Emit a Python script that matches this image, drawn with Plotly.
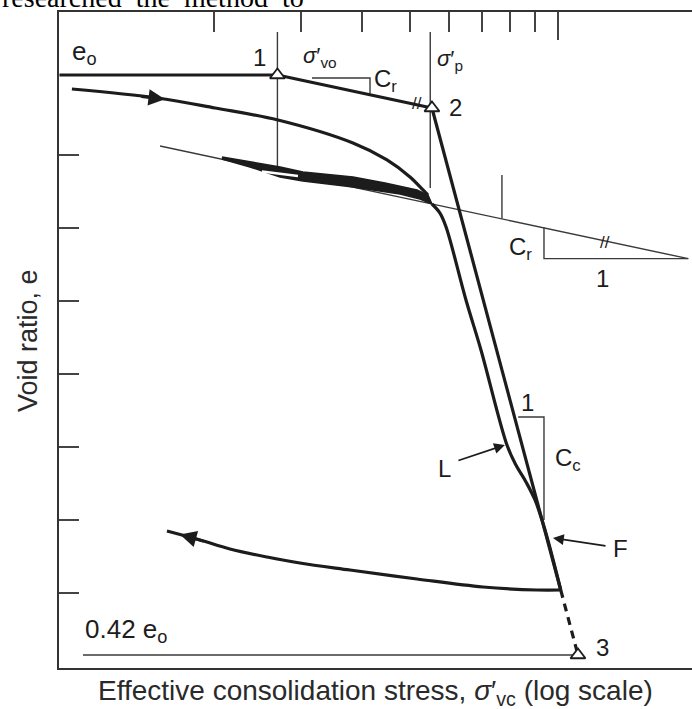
import numpy as np
import plotly.graph_objects as go

# ---------------- data (sigma'_vc in log-scale units, void ratio e) ----------------
e0_sigma = [0.97, 2.69]
e0_e = [1.4096, 1.4096]

recomp_sigma = [2.69, 5.544]          # field recompression line 1 -> 2
recomp_e = [1.4096, 1.3644]

load_sigma = [1.028, 1.531, 2.009, 2.697, 3.831, 4.492, 5.003, 5.317, 5.442]
load_e = [1.3904, 1.3781, 1.3644, 1.3479, 1.3164, 1.2932, 1.2699, 1.2521, 1.2452]

loop_up_sigma = [2.075, 2.366, 2.723, 3.031, 3.831, 4.450, 5.169, 5.442]
loop_up_e = [1.2973, 1.2904, 1.2836, 1.2767, 1.2699, 1.2616, 1.2521, 1.2452]
loop_lo_sigma = [5.544, 5.243, 4.775, 3.831, 3.031, 2.723, 2.366, 2.075]
loop_lo_e = [1.2329, 1.2397, 1.2466, 1.2562, 1.2644, 1.2699, 1.2836, 1.2945]
eye_sigma = [2.502, 2.723, 2.962]
eye_e = [1.2774, 1.2747, 1.2712]

lab_sigma = [5.544, 5.756, 5.923, 6.501, 6.974, 7.876, 8.214, 8.610, 8.981, 9.410, 10.13]
lab_e = [1.2329, 1.2205, 1.2014, 1.1014, 1.0329, 0.9027, 0.8753, 0.8521, 0.8274, 0.7863, 0.7041]

unload_sigma = [10.13, 9.065, 7.040, 5.169, 3.778, 2.989, 2.562, 2.154, 1.873, 1.604]
unload_e = [0.7041, 0.7041, 0.7082, 0.7192, 0.7315, 0.7411, 0.7493, 0.7603, 0.7726, 0.7849]

field_sigma = [5.544, 10.13]
field_e = [1.3644, 0.7041]
field_ext_sigma = [10.13, 10.98]
field_ext_e = [0.7041, 0.6151]

cr_line_sigma = [1.553, 18.4]
cr_line_e = [1.3123, 1.158]

svo_sigma = [2.69, 2.69]
svo_e = [1.4685, 1.2822]
sp_sigma = [5.50, 5.50]
sp_e = [1.4685, 1.2548]
tick_sigma = [7.693, 7.693]
tick_e = [1.2726, 1.2129]

cr_tri_sigma = [9.366, 9.366, 18.4]
cr_tri_e = [1.2007, 1.158, 1.158]
cr_top_sigma = [3.162, 4.149, 4.149]
cr_top_e = [1.4055, 1.4055, 1.384]
cc_tri_sigma = [8.30, 9.366, 9.366]
cc_tri_e = [0.9411, 0.9411, 0.80]

base_sigma = [1.083, 10.98]
base_e = [0.6151, 0.6151]

pts_sigma = [2.69, 5.544, 10.98]
pts_e = [1.4096, 1.3644, 0.6151]

top_minor_ticks = [2, 3, 4, 5, 6, 7, 8, 9]
top_major_ticks = [10]
y_ticks = [0.7, 0.8, 0.9, 1.0, 1.1, 1.2, 1.3]

X_RANGE = [-0.0142, 1.2724]
Y_RANGE = [0.59726, 1.49589]

INK = "#1c1c1c"
THIN = "#3a3a3a"

fig = go.Figure()


def line(xs, ys, width=3.4, color=INK, dash=None, shape="linear"):
    fig.add_trace(go.Scatter(x=xs, y=ys, mode="lines", showlegend=False, hoverinfo="skip",
                             line=dict(color=color, width=width, dash=dash, shape=shape)))


# thin construction lines
line(svo_sigma, svo_e, 1.4, THIN)
line(sp_sigma, sp_e, 1.4, THIN)
line(tick_sigma, tick_e, 1.4, THIN)
line(cr_line_sigma, cr_line_e, 1.4, THIN)
line(cr_tri_sigma, cr_tri_e, 1.4, THIN)
line(cr_top_sigma, cr_top_e, 1.4, THIN)
line(cc_tri_sigma, cc_tri_e, 1.4, THIN)
line(base_sigma, base_e, 1.4, THIN)

# thick curves
line(e0_sigma, e0_e, 3.2)
line(recomp_sigma, recomp_e, 3.2)
line(load_sigma, load_e, 3.2, shape="spline")
fig.add_trace(go.Scatter(x=loop_up_sigma + loop_lo_sigma, y=loop_up_e + loop_lo_e, mode="lines",
                         fill="toself", fillcolor=INK, line=dict(color=INK, width=1.5),
                         showlegend=False, hoverinfo="skip"))
line(eye_sigma, eye_e, 2.4, "white")
line(lab_sigma, lab_e, 3.2, shape="spline")
line(field_sigma, field_e, 3.2)
line(field_ext_sigma, field_ext_e, 3.2, dash="8px,6px")
line(unload_sigma, unload_e, 3.2, shape="spline")

# construction points 1, 2, 3
fig.add_trace(go.Scatter(x=pts_sigma, y=pts_e, mode="markers", showlegend=False, hoverinfo="skip",
                         marker=dict(symbol="triangle-up", size=13, color="white",
                                     line=dict(color=INK, width=1.8))))

# invisible trace to carry the top axis
fig.add_trace(go.Scatter(x=[1, 10], y=[1.0, 1.0], xaxis="x2", mode="lines",
                         line=dict(width=0), showlegend=False, hoverinfo="skip"))

L = np.log10
FONT = "Liberation Sans, Arial, sans-serif"
ann = []


def txt(s, e, t, size=24):
    ann.append(dict(x=L(s), y=e, xref="x", yref="y", text=t, showarrow=False,
                    font=dict(family=FONT, size=size, color=INK)))


def arrow(s_tip, e_tip, s_tail, e_tail, head=2, size=1.3, width=2.2):
    ann.append(dict(x=L(s_tip), y=e_tip, ax=L(s_tail), ay=e_tail, xref="x", yref="y",
                    axref="x", ayref="y", text="", showarrow=True, arrowhead=head,
                    arrowsize=size, arrowwidth=width, arrowcolor=INK, standoff=0))


txt(1.093, 1.4411, "e<sub>o</sub>", 26)
txt(2.478, 1.4342, "1")
txt(3.284, 1.4342, "<i>σ</i>′<sub>vo</sub>", 22)
txt(4.471, 1.4027, "C<sub>r</sub>")
txt(6.033, 1.4301, "<i>σ</i>′<sub>p</sub>", 22)
txt(6.204, 1.3644, "2")
txt(5.163, 1.3712, "//", 17)
txt(8.372, 1.1726, "C<sub>r</sub>")
txt(12.34, 1.1315, "1")
txt(12.46, 1.1808, "//", 17)
txt(8.69, 0.9616, "1")
txt(10.48, 0.8822, "C<sub>c</sub>")
txt(5.89, 0.8712, "L")
txt(13.37, 0.7616, "F")
txt(1.324, 0.6493, "0.42 e<sub>o</sub>", 26)
txt(12.34, 0.6247, "3")

arrow(7.80, 0.9027, 6.232, 0.8808, head=2, size=1.2, width=1.8)          # L
arrow(9.768, 0.7753, 12.58, 0.7644, head=2, size=1.2, width=1.8)         # F
arrow(1.589, 1.3762, 1.413, 1.3805, head=2, size=1.1, width=3)           # loading direction
arrow(1.705, 0.7801, 1.917, 0.7705, head=2, size=1.1, width=3)           # unloading direction

# axis titles and clipped page text
ann.append(dict(x=0.5, y=-0.0366, xref="paper", yref="paper", xanchor="center", yanchor="middle",
                text="Effective consolidation stress, <i>σ</i>′<sub>vc</sub> (log scale)",
                showarrow=False, font=dict(family=FONT, size=28, color="#2a2a2a")))
ann.append(dict(x=-0.049, y=0.5, xref="paper", yref="paper", xanchor="center", yanchor="middle",
                text="Void ratio, e", textangle=-90, showarrow=False,
                font=dict(family=FONT, size=27, color="#2a2a2a")))
ann.append(dict(x=-0.0932, y=0.9954, xref="paper", yref="paper", xanchor="left", yanchor="bottom",
                text="researched\u00a0 the\u00a0 method\u00a0 to", showarrow=False,
                font=dict(family="Liberation Serif, Times New Roman, serif", size=28, color="black")))

fig.update_layout(
    width=692, height=709,
    margin=dict(l=59, r=0, t=12, b=41, pad=0),
    paper_bgcolor="white", plot_bgcolor="white",
    annotations=ann,
    xaxis=dict(type="log", range=X_RANGE, showgrid=False, zeroline=False, showticklabels=False,
               ticks="", showline=True, linecolor="#333", linewidth=2),
    xaxis2=dict(type="log", range=X_RANGE, overlaying="x", side="top", anchor="y",
                showgrid=False, zeroline=False, showticklabels=False, showline=True,
                linecolor="#333", linewidth=2, ticks="inside", tickvals=top_major_ticks,
                ticklen=28, tickwidth=1.6, tickcolor="#444",
                minor=dict(tickvals=top_minor_ticks, ticks="inside", ticklen=20,
                           tickwidth=1.6, tickcolor="#444", showgrid=False)),
    yaxis=dict(range=Y_RANGE, showgrid=False, zeroline=False, showticklabels=False,
               showline=True, linecolor="#333", linewidth=2, ticks="inside", tickvals=y_ticks,
               ticklen=20, tickwidth=1.6, tickcolor="#444"),
)

fig.write_html("out.html")
